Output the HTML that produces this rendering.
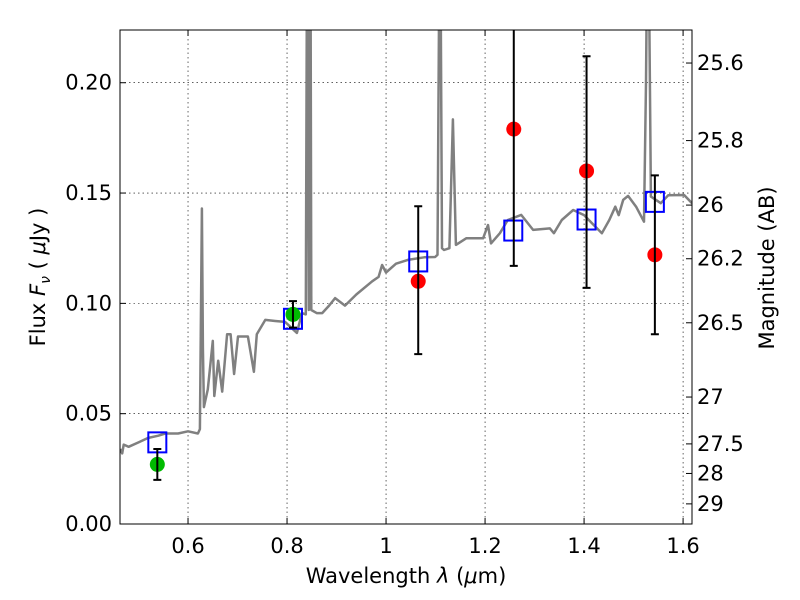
<!DOCTYPE html>
<html><head><meta charset="utf-8"><style>
body{margin:0;background:#fff}
svg{display:block;font-family:"DejaVu Sans","Liberation Sans",sans-serif}
</style></head><body>
<svg id="chart" width="800" height="600" viewBox="0 0 800 600" xmlns="http://www.w3.org/2000/svg">
<defs><clipPath id="clip"><rect x="120" y="30" width="572" height="494"/></clipPath></defs>
<rect x="0" y="0" width="800" height="600" fill="#fff"/>
<g id="grid"></g>
<g id="series" clip-path="url(#clip)"></g>
<rect x="120" y="30" width="572" height="494" fill="none" stroke="#000" stroke-width="1"/>
<g id="axes"></g>
<text x="406" y="583" font-size="21" text-anchor="middle">Wavelength  <tspan font-style="italic">λ</tspan> (<tspan font-style="italic">μ</tspan>m)</text>
<text transform="translate(45,277) rotate(-90)" font-size="21" text-anchor="middle">Flux  <tspan font-style="italic">F</tspan><tspan font-style="italic" font-size="14" dy="5">ν</tspan><tspan dy="-5">  ( </tspan><tspan font-style="italic">μ</tspan>Jy )</text>
<text transform="translate(774,268) rotate(-90)" font-size="21" text-anchor="middle">Magnitude (AB)</text>
</svg>
<script>
const specWave=[0.463,0.467,0.470,0.480,0.500,0.519,0.540,0.554,0.580,0.600,0.620,0.624,0.628,0.630,0.632,0.640,0.650,0.653,0.661,0.669,0.679,0.686,0.693,0.701,0.721,0.733,0.739,0.756,0.776,0.796,0.820,0.830,0.838,0.841,0.844,0.847,0.849,0.860,0.871,0.885,0.897,0.917,0.940,0.972,0.985,0.992,1.000,1.020,1.044,1.077,1.099,1.104,1.109,1.113,1.117,1.128,1.135,1.141,1.162,1.196,1.206,1.212,1.230,1.246,1.273,1.297,1.331,1.339,1.355,1.378,1.400,1.416,1.436,1.451,1.463,1.470,1.479,1.489,1.505,1.521,1.525,1.529,1.533,1.535,1.555,1.570,1.602,1.618];
const specFlux=[0.034,0.032,0.036,0.035,0.037,0.039,0.040,0.041,0.041,0.042,0.041,0.043,0.143,0.080,0.053,0.061,0.083,0.058,0.074,0.060,0.086,0.086,0.068,0.085,0.085,0.069,0.086,0.0925,0.092,0.0916,0.0866,0.0956,0.095,0.30,0.097,0.30,0.097,0.0956,0.0956,0.099,0.1024,0.099,0.104,0.110,0.112,0.1174,0.114,0.118,0.1197,0.1209,0.121,0.122,0.30,0.125,0.1242,0.125,0.1834,0.1265,0.1295,0.1295,0.1355,0.1272,0.1318,0.1378,0.1401,0.1333,0.1340,0.1318,0.1378,0.1423,0.140,0.1363,0.1318,0.1378,0.1438,0.140,0.1469,0.1487,0.1438,0.1370,0.20,0.30,0.20,0.1484,0.1454,0.149,0.1491,0.1454];
const redWave=[1.065,1.258,1.405,1.543];
const redFlux=[0.110,0.179,0.160,0.122];
const redLo=[0.077,0.117,0.107,0.086];
const redHi=[0.144,0.30,0.212,0.158];
const greenWave=[0.538,0.812];
const greenFlux=[0.027,0.095];
const greenLo=[0.020,0.089];
const greenHi=[0.034,0.101];
const modelWave=[0.538,0.812,1.065,1.257,1.405,1.543];
const modelFlux=[0.037,0.093,0.119,0.133,0.138,0.146];
const xTicks=[0.6,0.8,1.0,1.2,1.4,1.6];
const xTickLabels=["0.6","0.8","1","1.2","1.4","1.6"];
const yTicks=[0,0.05,0.10,0.15,0.20];
const yTickLabels=["0.00","0.05","0.10","0.15","0.20"];
const magTicks=[25.6,25.8,26,26.2,26.5,27,27.5,28,29];
const magTickLabels=["25.6","25.8","26","26.2","26.5","27","27.5","28","29"];

const X0=120,X1=692,Y0=524,Y1=30,xmin=0.4626,xmax=1.618,ymin=0,ymax=0.2239;
function sx(v){return X0+(v-xmin)/(xmax-xmin)*(X1-X0);}
function sy(v){return Y0-(v-ymin)/(ymax-ymin)*(Y0-Y1);}
function magToFlux(m){return Math.pow(10,(23.9-m)/2.5);}
const NS="http://www.w3.org/2000/svg";
function mk(parent,tag,attrs,text){const e=document.createElementNS(NS,tag);for(const k in attrs)e.setAttribute(k,attrs[k]);if(text!==undefined)e.textContent=text;parent.appendChild(e);return e;}
const grid=document.getElementById('grid'),axes=document.getElementById('axes'),series=document.getElementById('series');

xTicks.forEach((t,i)=>{const x=sx(t);
 const g=mk(grid,'line',{x1:x,x2:x,y1:Y1,y2:Y0,stroke:'#000','stroke-width':0.6,'stroke-dasharray':'1.5,3'});
 
 
 mk(axes,'line',{x1:x,x2:x,y1:Y0,y2:Y0-6,stroke:'#000'});
 mk(axes,'line',{x1:x,x2:x,y1:Y1,y2:Y1+6,stroke:'#000'});
 const l=mk(axes,'text',{x:x,y:553,'font-size':21,'text-anchor':'middle'},xTickLabels[i]);
 
 
});
yTicks.forEach((t,i)=>{const y=sy(t);
 const g=mk(grid,'line',{x1:X0,x2:X1,y1:y,y2:y,stroke:'#000','stroke-width':0.6,'stroke-dasharray':'1.5,3'});
 
 
 mk(axes,'line',{x1:X0,x2:X0+6,y1:y,y2:y,stroke:'#000'});
 const l=mk(axes,'text',{x:112,y:y+7,'font-size':21,'text-anchor':'end'},yTickLabels[i]);
 
 
});
magTicks.forEach((m,i)=>{const y=sy(magToFlux(m));
 mk(axes,'line',{x1:X1,x2:X1-6,y1:y,y2:y,stroke:'#000'});
 const l=mk(axes,'text',{x:697,y:y+7,'font-size':21},magTickLabels[i]);
 
 
});

let d='';specWave.forEach((w,i)=>{d+=(i?'L':'M')+sx(w).toFixed(1)+','+sy(specFlux[i]).toFixed(1);});
const sp=mk(series,'path',{d:d,fill:'none',stroke:'#808080','stroke-width':2.5,'stroke-linejoin':'round'});



function errbar(w,lo,hi){const x=sx(w);
 const e=mk(series,'path',{d:`M${x},${sy(lo)}L${x},${sy(hi)}M${x-4},${sy(lo)}L${x+4},${sy(lo)}M${x-4},${sy(hi)}L${x+4},${sy(hi)}`,stroke:'#000','stroke-width':2,fill:'none'});
 
 
}
modelWave.forEach((w,i)=>{
 const r=mk(series,'rect',{x:sx(w)-9,y:sy(modelFlux[i])-10,width:18,height:20,fill:'none',stroke:'#0000ff','stroke-width':2});
 
 
});
greenWave.forEach((w,i)=>{
 const c=mk(series,'circle',{cx:sx(w),cy:sy(greenFlux[i]),r:7.5,fill:'#00bb00'});
 
 
 errbar(w,greenLo[i],greenHi[i]);
});
redWave.forEach((w,i)=>{
 const c=mk(series,'circle',{cx:sx(w),cy:sy(redFlux[i]),r:7.5,fill:'#ff0000'});
 
 
 errbar(w,redLo[i],redHi[i]);
});
</script>
</body></html>
